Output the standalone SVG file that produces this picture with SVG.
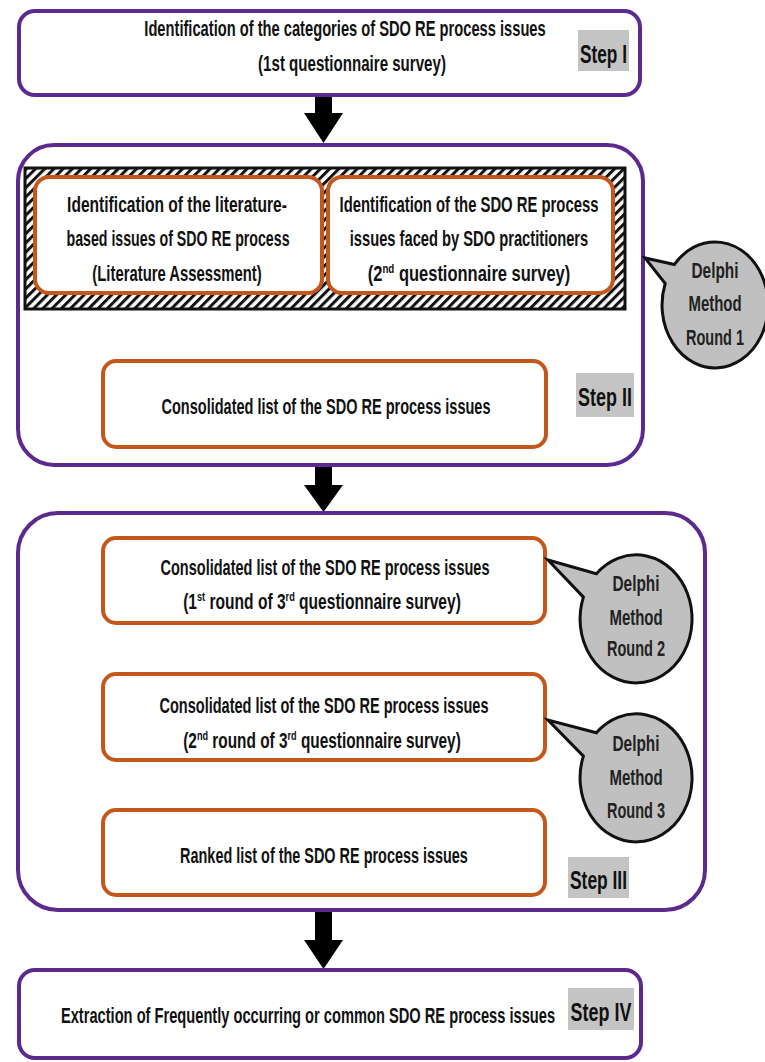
<svg xmlns="http://www.w3.org/2000/svg" width="765" height="1062" viewBox="0 0 765 1062">
<defs>
<pattern id="hatch" width="6.5" height="6.5" patternUnits="userSpaceOnUse" patternTransform="rotate(45)">
<rect width="6.5" height="6.5" fill="#ffffff"/>
<rect width="3" height="6.5" fill="#111111"/>
</pattern>
</defs>
<style>
.purple{fill:#ffffff;stroke:#5c2a8e;stroke-width:4}
.orange{fill:#ffffff;stroke:#c4581c;stroke-width:4}
.t{font-family:"Liberation Sans",Arial,sans-serif;font-weight:bold;font-size:22px;fill:#111111;text-anchor:middle}
.step{font-family:"Liberation Sans",Arial,sans-serif;font-weight:bold;font-size:26px;fill:#111111;text-anchor:middle}
.sbg{fill:#c4c4c4}
.bubble{fill:#c0c0c0;stroke:#111111;stroke-width:3}
.d{font-family:"Liberation Sans",Arial,sans-serif;font-weight:bold;font-size:22px;fill:#222222;text-anchor:middle}
.sup{font-size:13px}
.black{fill:#000000}
.hollow{fill:#ffffff;stroke:#000000;stroke-width:2.5}
</style>

<g id="connectors">
<polygon class="black" points="315,95 332,95 332,113 343,113 323.5,143 304,113 315,113"/>
<polygon class="hollow" points="318.5,310 332.5,310 332.5,331 343,331 325.5,358 308,331 318.5,331"/>
<polygon class="black" points="315,466 332,466 332,485 343,485 323.5,512 304,485 315,485"/>
<polygon class="hollow" points="318.5,623 332.5,623 332.5,644 343,644 325.5,672 308,644 318.5,644"/>
<polygon class="hollow" points="318.5,760 332.5,760 332.5,781 343,781 325.5,809 308,781 318.5,781"/>
<polygon class="black" points="315,911 332,911 332,940 343,940 323.5,969 304,940 315,940"/>
</g>

<g id="step1">
<rect class="purple" x="19" y="11" width="621" height="84" rx="16"/>
<text class="t" transform="translate(345,36) scale(0.668,1)">Identification of the categories of SDO RE process issues</text>
<text class="t" transform="translate(352,71) scale(0.686,1)">(1st questionnaire survey)</text>
<rect class="sbg" x="578" y="30" width="51" height="41"/>
<text class="step" transform="translate(603.5,63) scale(0.664,1)">Step I</text>
</g>

<g id="step2">
<rect class="purple" x="18" y="145" width="625" height="320" rx="36"/>
<rect x="25" y="168" width="600" height="141" fill="url(#hatch)" stroke="#111111" stroke-width="3"/>
<g id="lit">
<rect class="orange" x="35" y="177" width="287" height="116" rx="14"/>
<text class="t" transform="translate(177,212) scale(0.709,1)">Identification of the literature-</text>
<text class="t" transform="translate(178,246) scale(0.645,1)">based issues of SDO RE process</text>
<text class="t" transform="translate(177,281) scale(0.675,1)">(Literature Assessment)</text>
</g>
<g id="prac">
<rect class="orange" x="328" y="177" width="285" height="116" rx="14"/>
<text class="t" transform="translate(469,212) scale(0.675,1)">Identification of the SDO RE process</text>
<text class="t" transform="translate(469,246) scale(0.669,1)">issues faced by SDO practitioners</text>
<text class="t" transform="translate(469,281) scale(0.75,1)">(2<tspan class="sup" dy="-8">nd</tspan><tspan dy="8"> questionnaire survey)</tspan></text>
</g>
<g id="cons1">
<rect class="orange" x="103" y="361" width="443" height="86" rx="13"/>
<text class="t" transform="translate(326,414) scale(0.66,1)">Consolidated list of the SDO RE process issues</text>
</g>
<rect class="sbg" x="576" y="373" width="58" height="44"/>
<text class="step" transform="translate(605,406) scale(0.69,1)">Step II</text>
</g>

<g id="delphi1">
<path class="bubble" d="M 665.2 283.5 L 645 258 L 674.4 264.5 A 53 63 0 1 1 665.2 283.5 Z"/>
<text class="d" transform="translate(715,278) scale(0.7,1)">Delphi</text>
<text class="d" transform="translate(715,311) scale(0.68,1)">Method</text>
<text class="d" transform="translate(715,345) scale(0.66,1)">Round 1</text>
</g>

<g id="step3">
<rect class="purple" x="18" y="513" width="687" height="397" rx="40"/>
<g id="cons2">
<rect class="orange" x="103" y="538" width="442" height="85" rx="13"/>
<text class="t" transform="translate(325,575) scale(0.66,1)">Consolidated list of the SDO RE process issues</text>
<text class="t" transform="translate(322,609) scale(0.708,1)">(1<tspan class="sup" dy="-8">st</tspan><tspan dy="8"> round of 3</tspan><tspan class="sup" dy="-8">rd</tspan><tspan dy="8"> questionnaire survey)</tspan></text>
</g>
<g id="cons3">
<rect class="orange" x="103" y="674" width="442" height="86" rx="13"/>
<text class="t" transform="translate(324,713) scale(0.66,1)">Consolidated list of the SDO RE process issues</text>
<text class="t" transform="translate(322,748) scale(0.70,1)">(2<tspan class="sup" dy="-8">nd</tspan><tspan dy="8"> round of 3</tspan><tspan class="sup" dy="-8">rd</tspan><tspan dy="8"> questionnaire survey)</tspan></text>
</g>
<g id="ranked">
<rect class="orange" x="103" y="810" width="442" height="85" rx="13"/>
<text class="t" transform="translate(324,863) scale(0.656,1)">Ranked list of the SDO RE process issues</text>
</g>
<rect class="sbg" x="568" y="857" width="61" height="41"/>
<text class="step" transform="translate(598.5,889) scale(0.67,1)">Step III</text>
</g>

<g id="delphi2">
<path class="bubble" d="M 583.4 597.1 L 548 560 L 596.4 573.7 A 56 64 0 1 1 583.4 597.1 Z"/>
<text class="d" transform="translate(636,591) scale(0.7,1)">Delphi</text>
<text class="d" transform="translate(636,625) scale(0.68,1)">Method</text>
<text class="d" transform="translate(636,656) scale(0.66,1)">Round 2</text>
</g>

<g id="delphi3">
<path class="bubble" d="M 583.4 756.1 L 548 720 L 596.4 732.7 A 56 64 0 1 1 583.4 756.1 Z"/>
<text class="d" transform="translate(636,751) scale(0.7,1)">Delphi</text>
<text class="d" transform="translate(636,785) scale(0.68,1)">Method</text>
<text class="d" transform="translate(636,818) scale(0.66,1)">Round 3</text>
</g>

<g id="step4">
<rect class="purple" x="19" y="970" width="622" height="88" rx="16"/>
<text class="t" transform="translate(308,1023) scale(0.666,1)">Extraction of Frequently occurring or common SDO RE process issues</text>
<rect class="sbg" x="568" y="988" width="66" height="42"/>
<text class="step" transform="translate(601,1021) scale(0.69,1)">Step IV</text>
</g>
</svg>
